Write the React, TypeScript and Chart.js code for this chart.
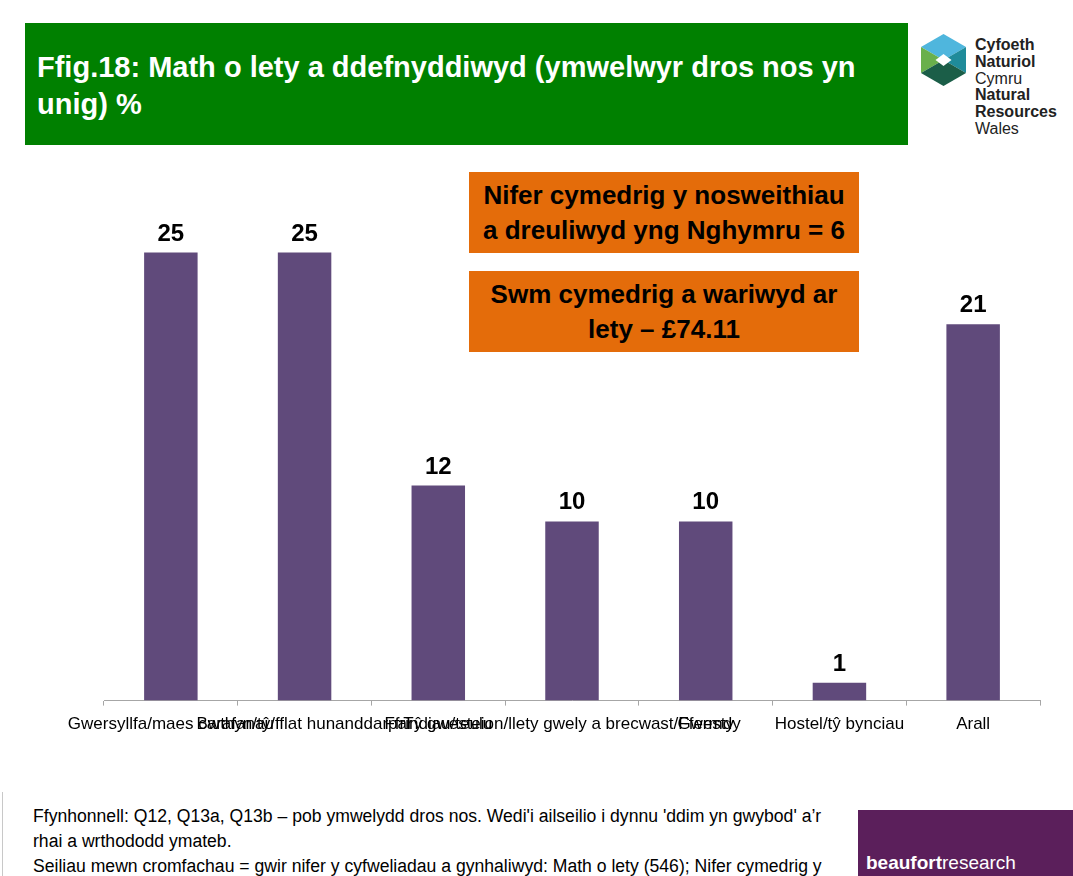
import React, { useEffect, useRef } from "react";
import { Chart, registerables } from "chart.js";

Chart.register(...registerables);

const categories = [
  "Gwersyllfa/maes carafanau",
  "Bwthyn/tŷ/fflat hunanddarpar",
  "Ffrindiau/teulu",
  "Tŷ gwesteion/llety gwely a brecwast/Ffermdy",
  "Gwesty",
  "Hostel/tŷ bynciau",
  "Arall",
];
const values = [25, 25, 12, 10, 10, 1, 21];
const yMax = 30;

const titleLines = ["Ffig.18: Math o lety a ddefnyddiwyd (ymwelwyr dros nos yn", "unig) %"];
const box1Lines = ["Nifer cymedrig y nosweithiau", "a dreuliwyd yng Nghymru = 6"];
const box2Lines = ["Swm cymedrig a wariwyd ar", "lety – £74.11"];
const footLines = [
  "Ffynhonnell: Q12, Q13a, Q13b – pob ymwelydd dros nos. Wedi'i ailseilio i dynnu 'ddim yn gwybod' a’r",
  "rhai a wrthododd ymateb.",
  "Seiliau mewn cromfachau = gwir nifer y cyfweliadau a gynhaliwyd: Math o lety (546); Nifer cymedrig y",
];
const logoLines: [string, boolean][] = [
  ["Cyfoeth", true],
  ["Naturiol", true],
  ["Cymru", false],
  ["Natural", true],
  ["Resources", true],
  ["Wales", false],
];

const FONT = "'Liberation Sans', Arial, sans-serif";

const valueLabels = {
  id: "valueLabels",
  afterDatasetsDraw(chart: any) {
    const ctx = chart.ctx;
    const meta = chart.getDatasetMeta(0);
    ctx.save();
    ctx.font = `bold 24px ${FONT}`;
    ctx.fillStyle = "#000";
    ctx.textAlign = "center";
    ctx.textBaseline = "alphabetic";
    meta.data.forEach((bar: any, i: number) => {
      ctx.fillText(String(values[i]), bar.x, bar.y - 12);
    });
    ctx.restore();
  },
};

function BarChart() {
  const ref = useRef<HTMLCanvasElement>(null);
  useEffect(() => {
    if (!ref.current) return;
    const chart = new Chart(ref.current, {
      type: "bar",
      data: {
        labels: categories,
        datasets: [
          {
            data: values,
            backgroundColor: "#604A7B",
            barPercentage: 0.4,
            categoryPercentage: 1,
          },
        ],
      },
      options: {
        animation: false,
        responsive: false,
        maintainAspectRatio: false,
        layout: { padding: { left: 104, right: 33, top: 13, bottom: 26 } },
        plugins: { legend: { display: false }, tooltip: { enabled: false } },
        scales: {
          x: {
            grid: {
              display: true,
              drawOnChartArea: false,
              drawTicks: true,
              tickLength: 5,
              color: "#a6a6a6",
              offset: true,
            },
            border: { display: true, color: "#a6a6a6", width: 1 },
            ticks: {
              autoSkip: false,
              maxRotation: 0,
              minRotation: 0,
              padding: 9,
              color: "#000",
              font: { family: FONT, size: 17 },
            },
          },
          y: { display: false, min: 0, max: yMax },
        },
      },
      plugins: [valueLabels],
    });
    return () => chart.destroy();
  }, []);
  return (
    <canvas
      ref={ref}
      width={1073}
      height={620}
      style={{ position: "absolute", left: 0, top: 150, width: 1073, height: 620 }}
    />
  );
}

function Logo() {
  const cx = 943.5;
  const cy = 60;
  const r = 26;
  const h = r * 0.866;
  const top = [cx, cy - r];
  const ur = [cx + h, cy - r / 2];
  const lr = [cx + h, cy + r / 2];
  const bot = [cx, cy + r];
  const ll = [cx - h, cy + r / 2];
  const ul = [cx - h, cy - r / 2];
  const c = [cx, cy];
  const p = (pts: number[][]) => pts.map((q) => q.join(",")).join(" ");
  return (
    <>
      <svg width={1073} height={876} style={{ position: "absolute", left: 0, top: 0, pointerEvents: "none" }}>
        <polygon points={p([ul, top, ur, c])} fill="#4fb6dd" />
        <polygon points={p([ur, lr, c])} fill="#1f8b9a" />
        <polygon points={p([ul, c, ll])} fill="#6ab04c" />
        <polygon points={p([ll, c, lr, bot])} fill="#1b5e48" />
        <polygon points={p([[cx, cy - 6], [cx + 8, cy], [cx, cy + 6], [cx - 8, cy]])} fill="#ffffff" />
      </svg>
      <div style={{ position: "absolute", left: 975, top: 37, fontFamily: FONT, fontSize: 16, lineHeight: "16.8px", color: "#222" }}>
        {logoLines.map(([t, b], i) => (
          <div key={i} style={{ fontWeight: b ? "bold" : "normal" }}>{t}</div>
        ))}
      </div>
    </>
  );
}

export default function App() {
  return (
    <div style={{ position: "fixed", left: 0, top: 0, width: 1073, height: 876, overflow: "hidden", background: "#fff", fontFamily: FONT }}>
      <div style={{ position: "absolute", left: 25, top: 23, width: 883, height: 122, background: "#008000" }}>
        <div style={{ position: "absolute", left: 12, top: 26, color: "#fff", fontWeight: "bold", fontSize: 29, lineHeight: "37px", whiteSpace: "nowrap" }}>
          {titleLines.map((t, i) => (
            <div key={i}>{t}</div>
          ))}
        </div>
      </div>
      <Logo />
      <BarChart />
      {[{ top: 172, lines: box1Lines }, { top: 271, lines: box2Lines }].map((b, i) => (
        <div key={i} style={{ position: "absolute", left: 469, top: b.top, width: 390, height: 81, background: "#E46C0A", display: "flex", flexDirection: "column", justifyContent: "center", alignItems: "center", fontWeight: "bold", fontSize: 26, lineHeight: "35px", color: "#000" }}>
          {b.lines.map((t, j) => (
            <div key={j} style={{ whiteSpace: "nowrap" }}>{t}</div>
          ))}
        </div>
      ))}
      <div style={{ position: "absolute", left: 2, top: 792, width: 1, height: 84, background: "#c8c8c8" }} />
      <div style={{ position: "absolute", left: 33, top: 804, fontSize: 17.6, lineHeight: "25px", color: "#000", whiteSpace: "nowrap" }}>
        {footLines.map((t, i) => (
          <div key={i}>{t}</div>
        ))}
      </div>
      <div style={{ position: "absolute", left: 858, top: 810, width: 215, height: 66, background: "#5B1F5B", color: "#fff" }}>
        <div style={{ position: "absolute", left: 8, top: 42, fontSize: 19, lineHeight: "22px", whiteSpace: "nowrap" }}>
          <span style={{ fontWeight: "bold" }}>beaufort</span>research
        </div>
      </div>
    </div>
  );
}
